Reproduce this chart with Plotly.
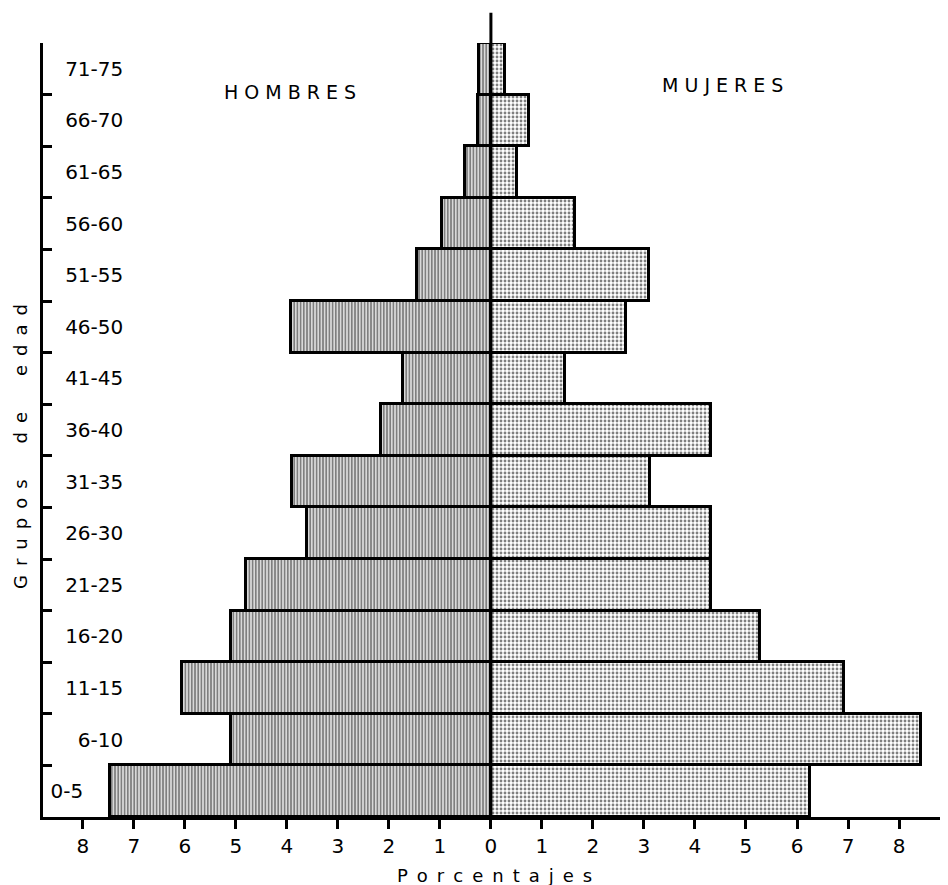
import plotly.graph_objects as go

grupos = ["0-5", "6-10", "11-15", "16-20", "21-25", "26-30", "31-35", "36-40",
          "41-45", "46-50", "51-55", "56-60", "61-65", "66-70", "71-75"]
etiquetas = ["0-5\u2003\u2003", "6-10", "11-15", "16-20", "21-25", "26-30", "31-35", "36-40",
             "41-45", "46-50", "51-55", "56-60", "61-65", "66-70", "71-75"]
hombres = [7.47, 5.10, 6.05, 5.10, 4.80, 3.60, 3.89, 2.15,
           1.72, 3.91, 1.44, 0.95, 0.51, 0.25, 0.24]
mujeres = [6.25, 8.44, 6.93, 5.27, 4.32, 4.32, 3.11, 4.32,
           1.46, 2.65, 3.10, 1.65, 0.52, 0.74, 0.27]
x_ticks = [-8, -7, -6, -5, -4, -3, -2, -1, 0, 1, 2, 3, 4, 5, 6, 7, 8]
x_ticktext = ["8", "7", "6", "5", "4", "3", "2", "1", "0", "1", "2", "3", "4", "5", "6", "7", "8"]

FONT = "DejaVu Sans"

fig = go.Figure()
fig.add_trace(go.Bar(
    y=grupos, x=[-v for v in hombres], orientation="h", name="Hombres",
    marker=dict(color="white",
                line=dict(color="black", width=3),
                pattern=dict(shape="|", fgcolor="black", bgcolor="white",
                             size=3.2, solidity=0.65)),
    hoverinfo="skip",
))
fig.add_trace(go.Bar(
    y=grupos, x=mujeres, orientation="h", name="Mujeres",
    marker=dict(color="white",
                line=dict(color="black", width=3),
                pattern=dict(shape=".", fgcolor="black", bgcolor="white",
                             size=4, solidity=0.4)),
    hoverinfo="skip",
))

fig.update_layout(
    width=940, height=877,
    margin=dict(l=35, r=0, t=35, b=68, autoexpand=False),
    paper_bgcolor="white", plot_bgcolor="white",
    barmode="relative", bargap=0,
    showlegend=False,
    font=dict(family=FONT, color="black", size=18),
    xaxis=dict(range=[-8.78, 8.96], tickvals=x_ticks, ticktext=x_ticktext,
               showgrid=False, zeroline=False, showline=True,
               linecolor="black", linewidth=2.5, automargin=False,
               ticks="outside", ticklen=9, tickwidth=2.5, tickcolor="black",
               tickfont=dict(family=FONT, size=20, color="black")),
    yaxis=dict(type="category", range=[-0.5, 14.5], tickson="boundaries",
               categoryorder="array", categoryarray=grupos,
               tickmode="array", tickvals=grupos, ticktext=etiquetas,
               showgrid=False, zeroline=False, showline=True,
               linecolor="black", linewidth=2.5, automargin=False,
               ticks="inside", ticklen=9, tickwidth=2.5, tickcolor="black",
               ticklabelposition="outside", ticklabelstandoff=-87,
               tickfont=dict(family=FONT, size=20, color="black")),
    shapes=[dict(type="line", xref="x", yref="paper", x0=0, x1=0,
                 y0=0, y1=1.039, line=dict(color="black", width=3))],
    annotations=[
        dict(text="H O M B R E S", x=-3.94, y=0.937, xref="x", yref="paper",
             xanchor="center", yanchor="middle",
             showarrow=False, font=dict(family=FONT, size=19, color="black")),
        dict(text="M U J E R E S", x=4.53, y=0.946, xref="x", yref="paper",
             xanchor="center", yanchor="middle",
             showarrow=False, font=dict(family=FONT, size=19, color="black")),
        dict(text="G\u2002r\u2002u\u2002p\u2002o\u2002s\u2003\u2003d\u2002e\u2003\u2003e\u2002d\u2002a\u2002d",
             x=-0.0254, y=0.478, xref="paper", yref="paper", textangle=-90,
             xanchor="center", yanchor="middle",
             showarrow=False, font=dict(family=FONT, size=18, color="black")),
        dict(text="P\u2002o\u2002r\u2002c\u2002e\u2002n\u2002t\u2002a\u2002j\u2002e\u2002s",
             x=0.08, y=-0.075, xref="x", yref="paper",
             xanchor="center", yanchor="middle",
             showarrow=False, font=dict(family=FONT, size=18, color="black")),
    ],
)

fig.write_html("out.html")
